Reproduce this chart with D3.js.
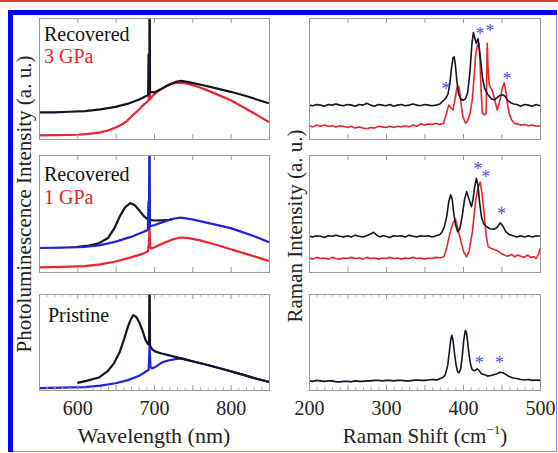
<!DOCTYPE html>
<html>
<head>
<meta charset="utf-8">
<script src="https://cdn.jsdelivr.net/npm/d3@7"></script>
<style>
  body { margin: 0; background: #fff; }
  text { font-family: "Liberation Serif", "Times New Roman", serif; }
</style>
</head>
<body>
<div id="chart"></div>
<script>
// ---- data (y in arbitrary units, 0-100 per panel) ----

// PL, recovered from 3 GPa
var pl3gBlack = [[550,22],[570,22],[590,22.5],[610,23],[630,24.5],[650,26.5],[665,29],[680,32.5],[690,35.5],[692.4,36.5],[692.9,70],[693.4,37.5],[693.9,38],[694.3,150],[694.8,39],[700,38.5],[710,41.5],[720,45],[730,47.5],[735,48],[745,47],[760,45],[780,42],[800,39],[820,35.5],[835,32.5],[850,29.5]];
var pl3gRed = [[550,3],[575,3.2],[600,3.5],[615,4.3],[630,5.5],[640,7],[650,9.5],[658,12],[665,15],[672,19.5],[680,24],[686,28],[690,30],[693,32],[694.2,43],[695,33],[698,35.5],[705,39.5],[715,43.5],[725,46],[735,46.5],[745,45.5],[760,42.5],[780,37.5],[800,32],[820,25],[835,19.5],[850,14]];

// PL, recovered from 1 GPa
var pl1gBlue = [[550,20.5],[580,20.8],[610,21.5],[630,23],[650,26],[670,30],[685,34],[692,36],[692.8,60],[693.4,37],[694.1,150],[694.7,39],[700,40],[715,43.5],[725,45.5],[735,46.5],[750,45],[770,42],[800,37.5],[820,33],[835,29.5],[850,25.5]];
var pl1gBlack = [[600,21.5],[615,22.5],[628,24.5],[640,29],[648,37],[655,47],[662,55],[669,59],[675,57],[681,52.5],[687,47.5],[692,45],[700,44],[710,44.2],[720,44.5],[726,45.5]];
var pl1gRed = [[550,4],[580,4.3],[610,5],[630,6.5],[650,9],[670,12.5],[685,15.5],[692,17.5],[693.5,25],[694.2,37],[695,21],[697,20],[705,22.5],[715,25.5],[725,28],[735,29.5],[745,29],[760,27],[780,23.5],[800,19.5],[820,15.5],[835,12.5],[850,9.5]];

// PL, pristine
var plPrisBlue = [[550,2],[580,2.5],[610,3],[630,4.5],[650,7],[665,10],[680,14.5],[689,19],[693,21],[694.2,45],[695.5,24],[697,22.5],[702,24],[711,29],[720,31],[730,32.5],[736,33],[750,30],[770,26],[800,19.5],[820,15],[835,11.5],[850,8.5]];
var plPrisBlack = [[600,7.5],[612,9.5],[628,13],[640,20],[648,28],[655,39],[661,53],[666,66],[670,74],[673,78],[677,76],[681,70],[685,62],[689,52],[692,48],[693.6,47],[694.2,140],[694.8,46],[698,42],[702,40],[710,38],[720,36],[735,33],[750,30],[770,26],[800,19.5],[820,15],[835,11.5],[850,8.5]];

// Raman, recovered from 3 GPa
var ram3gBlack = [[200,28],[205,27.5],[210,28.5],[215,28],[220,27],[225,28.5],[230,28],[235,29],[240,28],[245,27.5],[250,28.5],[255,28],[260,27],[265,28.5],[270,28],[275,29.5],[280,28],[285,27],[290,28.5],[295,28],[300,27.5],[305,28.5],[310,27],[315,28],[320,28.5],[325,27.5],[330,28],[335,29],[340,28],[345,27.5],[350,28.5],[355,28],[360,27.5],[365,28],[370,29],[375,32],[378,34],[380.5,37],[383,46],[385,58],[387,67],[388.5,68],[390,62],[392,48],[394,38],[397,33],[400,32],[403,33],[406,38],[409,55],[411.5,78],[413.5,88],[415.5,83],[417.2,79],[419.5,83],[421,76],[423.5,62],[425.5,50],[428,42],[432,37],[437,33],[441,32.5],[444,34],[448,36],[452,36.5],[455,35],[458,32],[462,30],[466,29],[470,28.5],[475,27],[480,28.5],[485,28],[490,27],[495,28.5],[500,27.5]];
var ram3gRed = [[200,11],[205,10],[210,11.5],[215,10.5],[220,11.5],[225,10.5],[230,11],[235,10],[240,11],[245,10.5],[250,9.5],[255,10.5],[260,9],[265,10],[270,9],[275,8.5],[280,9.5],[285,9],[290,10.5],[295,10],[300,9.5],[305,10.5],[310,9.5],[315,10.5],[320,10],[325,11],[330,10],[335,11.5],[340,10.5],[345,12.5],[350,11.5],[355,12.5],[360,12],[365,13],[369,12],[372,12.5],[375,13],[378,20],[381.5,28],[384,26],[387,24],[390,34],[392,42],[394,44],[396,38],[398,27],[400,18],[403.5,13],[406,15],[409,21],[412,32],[414.5,52],[416.5,70],[418.5,77],[420.5,79],[422,66],[423.5,40],[425.2,21],[427.5,20],[430,21],[431.5,79],[432.5,60],[434,45],[438,40],[441,33],[444.5,24],[448,32],[451,42],[453.5,46.5],[456,38],[458,28],[460,21],[463,16],[466.5,13],[470,12.5],[475,11.5],[480,12],[485,11],[490,11.5],[495,10.5],[500,11]];
var ram3gStars = [[378,43],[422,88.7],[435,91.5],[457,52]];

// Raman, recovered from 1 GPa
var ram1gBlack = [[200,30.5],[205,30],[210,31],[215,30.5],[220,29.5],[225,31],[230,30.5],[235,31.5],[240,30.5],[245,30],[250,31],[255,30],[260,31.5],[265,30.5],[270,30],[275,31],[280,32.5],[284,34],[288,31.5],[292,30],[296,31],[300,30.5],[305,29.5],[310,31],[315,30.5],[320,31],[325,30],[330,31.5],[335,30.5],[340,30],[345,31],[350,30.5],[355,31],[360,30],[365,31],[370,32],[373,34.5],[376,39],[379,48],[381.5,60],[384,66],[386,62],[388,50],[390.5,40],[393,34.5],[396,37],[399,48],[402,62],[404.8,68.7],[407,64],[410.9,55.8],[413,62],[415,72],[417.4,80],[419.5,74],[421.5,60],[424,47],[427,41],[430.9,38.7],[435,37],[440.4,36.5],[444,38],[448.3,42],[451,40],[455.6,34.5],[460,32],[465,31],[470,30],[475,31],[480,30],[485,31],[490,30],[495,31],[500,30.5]];
var ram1gRed = [[200,12],[205,11],[210,12.5],[215,11.5],[220,12],[225,11],[230,12.5],[235,11.5],[240,11],[245,12],[250,11.5],[255,12.5],[260,11.5],[265,12],[270,11],[275,12.5],[280,11.5],[285,12],[290,11],[295,12],[300,11.5],[305,12.5],[310,11.5],[315,12],[320,11],[325,12],[330,11.5],[335,12.5],[340,11.5],[345,12],[350,11],[355,12],[360,11.5],[365,12.5],[370,12],[375.2,13],[379,21],[383,33],[387,42],[390.4,45],[393,38],[397,27],[401,17],[404.8,13],[408,18],[412.2,34.5],[416.5,61.5],[419.5,72],[422.2,77],[424.5,68],[427.4,50],[430,32],[432.6,21.7],[437,20],[441,19],[444.8,18.2],[449,16],[453.4,14.5],[458,13.5],[463,15],[467,13],[471,14.5],[475,13.5],[479.5,12.5],[484,14.5],[488,12.5],[492,13],[495,11.7],[498,15],[500,20]];
var ram1gStars = [[419.5,90],[429.6,83.5],[450,52]];

// Raman, pristine
var ramPrisBlack = [[200,9.5],[205,9],[210,10],[215,9.5],[220,9],[225,9.5],[230,9.5],[235,8.5],[240,8.5],[245,9],[250,9],[255,8.5],[260,9.5],[265,9],[270,9],[275,9.5],[280,9.5],[285,10],[290,10],[295,9.5],[300,10],[305,10],[310,9.5],[315,10],[320,10],[325,9.5],[330,9.5],[335,10],[340,10.5],[345,10],[350,10],[355,10.5],[360,11],[366,10.5],[370,12],[374,13],[377,16],[380,25],[382,38],[384,52],[385.5,57],[387,52],[389,38],[391,26],[393,19],[395,18],[397,22],[399,35],[401,52],[403,62],[404.5,60],[406,50],[408,36],[410,26],[412,21],[415,20],[418.5,22],[421,20],[424,17],[428,16],[432,14.5],[436,15],[440,16],[444,17],[448,18.5],[452,18],[456,16],[460,14],[465,12.5],[470,12],[475,11],[480,10.5],[485,11],[490,10],[495,10.5],[500,10]];
var ramPrisStars = [[421,30.5],[447.5,30.5]];

// tick values
var wlTicks = [600, 650, 700, 750, 800];
var wlLabels = [600, 700, 800];
var ramTicks = [250, 300, 350, 400, 450];
var ramLabels = [200, 300, 400, 500];

// ---- layout ----
var W = 558, H = 453;
var cols = [[39, 269], [309, 540]];
var rows = [[18, 139], [155, 272], [294, 390]];

var black = "#141428", red = "#e8252b", blue = "#2323d6", star = "#4a4af5";
var serif = "Liberation Serif, Times New Roman, serif";

var svg = d3.select("#chart").append("svg")
    .attr("width", W)
    .attr("height", H)
    .attr("font-family", serif);

// outer decoration: thin red line on top, blue frame
svg.append("rect").attr("x", 0).attr("y", 0).attr("width", W).attr("height", 2).attr("fill", "#e23b3b");
svg.append("rect").attr("x", 8.5).attr("y", 10.5).attr("width", 548).attr("height", 441)
    .attr("fill", "none").attr("stroke", "#8c8cff").attr("stroke-width", 1);
svg.append("rect").attr("x", 8).attr("y", 10).attr("width", 549).attr("height", 5).attr("fill", "#0000ff");
svg.append("rect").attr("x", 8).attr("y", 10).attr("width", 5).attr("height", 442).attr("fill", "#0000ff");

var panelId = 0;

// draws one framed panel with its curves and asterisks
function drawPanel(col, row, domain, ticks, minor, curves, stars) {
    var x = d3.scaleLinear().domain(domain).range(cols[col]);
    var y = d3.scaleLinear().domain([0, 100]).range([rows[row][1], rows[row][0]]);
    var id = "clip" + (panelId++);

    svg.append("clipPath").attr("id", id)
        .append("rect")
        .attr("x", cols[col][0]).attr("y", rows[row][0])
        .attr("width", cols[col][1] - cols[col][0])
        .attr("height", rows[row][1] - rows[row][0]);

    var line = d3.line()
        .x(function (d) { return x(d[0]); })
        .y(function (d) { return y(d[1]); });

    var g = svg.append("g").attr("clip-path", "url(#" + id + ")");
    curves.forEach(function (c) {
        g.append("path")
            .datum(c.data)
            .attr("d", line)
            .attr("fill", "none")
            .attr("stroke", c.color)
            .attr("stroke-width", c.width)
            .attr("stroke-linejoin", "round");
    });

    // inward ticks, top and bottom
    var axes = [
        { axis: d3.axisBottom(x), pos: rows[row][1] },
        { axis: d3.axisTop(x), pos: rows[row][0] }
    ];
    axes.forEach(function (a) {
        var ag = svg.append("g")
            .attr("transform", "translate(0," + a.pos + ")")
            .call(a.axis.tickValues(ticks).tickSize(-5).tickFormat(""));
        ag.select(".domain").remove();
        ag.selectAll("line").attr("stroke", "#9a9a9a");
        if (minor) {
            var mg = svg.append("g")
                .attr("transform", "translate(0," + a.pos + ")")
                .call(a.axis.tickValues(minor).tickSize(-3).tickFormat(""));
            mg.select(".domain").remove();
            mg.selectAll("line").attr("stroke", "#b5b5b5");
        }
    });

    svg.append("rect")
        .attr("x", cols[col][0] + 0.5).attr("y", rows[row][0] + 0.5)
        .attr("width", cols[col][1] - cols[col][0])
        .attr("height", rows[row][1] - rows[row][0])
        .attr("fill", "none")
        .attr("stroke", "#9a9a9a");

    if (stars) {
        svg.append("g").selectAll("text")
            .data(stars)
            .enter()
            .append("text")
            .attr("x", function (d) { return x(d[0]); })
            .attr("y", function (d) { return y(d[1]) + 8.5; })
            .attr("text-anchor", "middle")
            .attr("font-size", 18)
            .attr("fill", star)
            .text("*");
    }
    return x;
}

var wlDomain = [550, 850], ramDomain = [200, 500];
var wlMinor = d3.range(560, 850, 10).filter(function (v) { return v % 50 !== 0; });
var ramMinor = d3.range(210, 500, 10).filter(function (v) { return v % 50 !== 0; });

drawPanel(0, 0, wlDomain, wlTicks, null, [
    { data: pl3gRed, color: red, width: 2.2 },
    { data: pl3gBlack, color: black, width: 2.2 }
]);
drawPanel(0, 1, wlDomain, wlTicks, null, [
    { data: pl1gRed, color: red, width: 2.2 },
    { data: pl1gBlack, color: black, width: 2.2 },
    { data: pl1gBlue, color: blue, width: 2.2 }
]);
var xWl = drawPanel(0, 2, wlDomain, wlTicks, wlMinor, [
    { data: plPrisBlue, color: blue, width: 2.2 },
    { data: plPrisBlack, color: black, width: 2.2 }
]);

drawPanel(1, 0, ramDomain, ramTicks, null, [
    { data: ram3gRed, color: red, width: 1.6 },
    { data: ram3gBlack, color: black, width: 1.6 }
], ram3gStars);
drawPanel(1, 1, ramDomain, ramTicks, null, [
    { data: ram1gRed, color: red, width: 1.6 },
    { data: ram1gBlack, color: black, width: 1.6 }
], ram1gStars);
var xRam = drawPanel(1, 2, ramDomain, ramTicks, ramMinor, [
    { data: ramPrisBlack, color: black, width: 1.6 }
], ramPrisStars);

// tick labels under the bottom panels
[[xWl, wlLabels], [xRam, ramLabels]].forEach(function (p) {
    var ag = svg.append("g")
        .attr("transform", "translate(0," + rows[2][1] + ")")
        .call(d3.axisBottom(p[0]).tickValues(p[1]).tickSize(0).tickPadding(11));
    ag.attr("font-family", serif);
    ag.select(".domain").remove();
    ag.selectAll("text")
        .attr("font-size", 20)
        .attr("fill", "#222");
});

// panel captions
var captions = [
    { t: "Recovered", x: 44, y: 41, c: "#111" },
    { t: "3 GPa", x: 44, y: 63, c: red },
    { t: "Recovered", x: 44, y: 181, c: "#111" },
    { t: "1 GPa", x: 44, y: 204, c: red },
    { t: "Pristine", x: 48, y: 322, c: "#111" }
];
svg.append("g").selectAll("text")
    .data(captions)
    .enter()
    .append("text")
    .attr("x", function (d) { return d.x; })
    .attr("y", function (d) { return d.y; })
    .attr("font-size", 20)
    .attr("fill", function (d) { return d.c; })
    .text(function (d) { return d.t; });

// axis titles
svg.append("text")
    .attr("transform", "translate(31,204) rotate(-90)")
    .attr("text-anchor", "middle")
    .attr("font-size", 21)
    .attr("fill", "#222")
    .text("Photoluminescence Intensity (a. u.)");

svg.append("text")
    .attr("transform", "translate(302,226) rotate(-90)")
    .attr("text-anchor", "middle")
    .attr("font-size", 21)
    .attr("fill", "#222")
    .text("Raman Intensity (a. u.)");

svg.append("text")
    .attr("x", 154).attr("y", 443)
    .attr("text-anchor", "middle")
    .attr("font-size", 22)
    .attr("fill", "#222")
    .text("Wavelength (nm)");

var rs = svg.append("text")
    .attr("x", 425).attr("y", 443)
    .attr("text-anchor", "middle")
    .attr("font-size", 21)
    .attr("fill", "#222");
rs.append("tspan").text("Raman Shift (cm");
rs.append("tspan").attr("font-size", 13).attr("dy", -9).text("\u22121");
rs.append("tspan").attr("dy", 9).text(")");
</script>
</body>
</html>
